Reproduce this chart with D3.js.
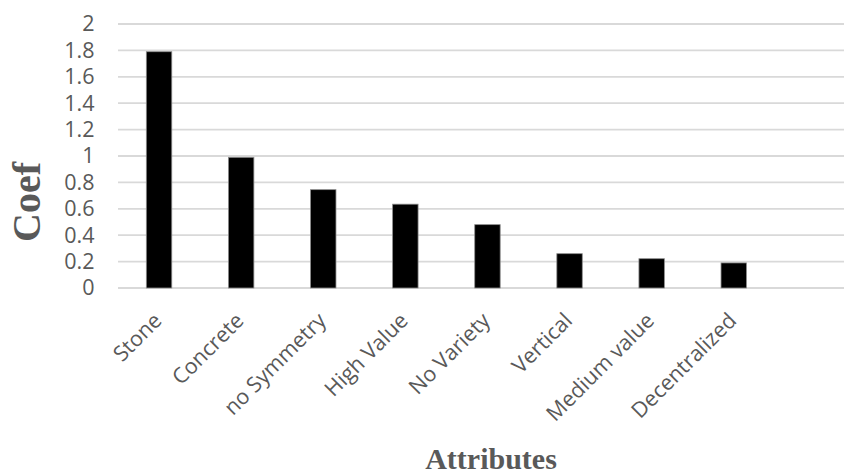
<!DOCTYPE html>
<html>
<head>
<meta charset="utf-8">
<script src="https://cdn.jsdelivr.net/npm/d3@7"></script>
<style>
  html, body { margin: 0; padding: 0; background: #fff; }
  svg { display: block; }
</style>
</head>
<body>
<svg id="chart" width="844" height="474"></svg>
<script>
// attributes on the x axis
var attributes = ["Stone", "Concrete", "no Symmetry", "High Value", "No Variety", "Vertical", "Medium value", "Decentralized"];
// coefficient of each attribute
var coefs = [1.79, 0.99, 0.745, 0.635, 0.48, 0.26, 0.222, 0.19];
// y tick values
var yTicks = [0, 0.2, 0.4, 0.6, 0.8, 1, 1.2, 1.4, 1.6, 1.8, 2];

var W = 844, H = 474;
var plotLeft = 118, plotBottom = 288, plotTop = 24;
var svg = d3.select("#chart");

var x = d3.scaleBand().domain(attributes).range([plotLeft, plotLeft + 82.1 * attributes.length])
	.paddingInner(0.69).paddingOuter(0.345);
var y = d3.scaleLinear().domain([0, 2]).range([plotBottom, plotTop]);

// gridlines
svg.append("g").selectAll("line").data(yTicks).enter().append("line")
	.attr("x1", plotLeft).attr("x2", W)
	.attr("y1", d => y(d)).attr("y2", d => y(d))
	.attr("stroke", "#d9d9d9").attr("stroke-width", 1.8);

// y axis labels
var yAxis = d3.axisLeft(y).tickValues(yTicks).tickSize(0).tickPadding(0).tickFormat(d => d3.format("")(d));
var ya = svg.append("g").attr("transform", "translate(94.5,0)").call(yAxis);
ya.select(".domain").remove();
ya.selectAll("text").attr("fill", "#595959").style("font-family", "'Open Sans'").style("font-size", "21.5px");

// bars
svg.append("g").selectAll("rect").data(coefs).enter().append("rect")
	.attr("x", (d, i) => x(attributes[i]))
	.attr("width", x.bandwidth())
	.attr("y", d => y(d))
	.attr("height", d => plotBottom - y(d))
	.attr("fill", "#000").attr("stroke", "#8c8c8c").attr("stroke-width", 0.8);

// x labels, rotated
svg.append("g").selectAll("text").data(attributes).enter().append("text")
	.attr("transform", d => "translate(" + (x(d) + x.bandwidth() / 2 + 4) + "," + (plotBottom + 34) + ") rotate(-45)")
	.attr("text-anchor", "end")
	.attr("fill", "#595959")
	.style("font-family", "'Open Sans'").style("font-size", "21.5px")
	.text(d => d);

// axis titles
svg.append("text")
	.attr("transform", "translate(40,202) rotate(-90)")
	.attr("text-anchor", "middle")
	.attr("fill", "#595959")
	.style("font-family", "'Liberation Serif'").style("font-weight", "bold").style("font-size", "40px")
	.text("Coef");

svg.append("text")
	.attr("x", 491).attr("y", 469)
	.attr("text-anchor", "middle")
	.attr("fill", "#595959")
	.style("font-family", "'Liberation Serif'").style("font-weight", "bold").style("font-size", "30px")
	.text("Attributes");
</script>
</body>
</html>
